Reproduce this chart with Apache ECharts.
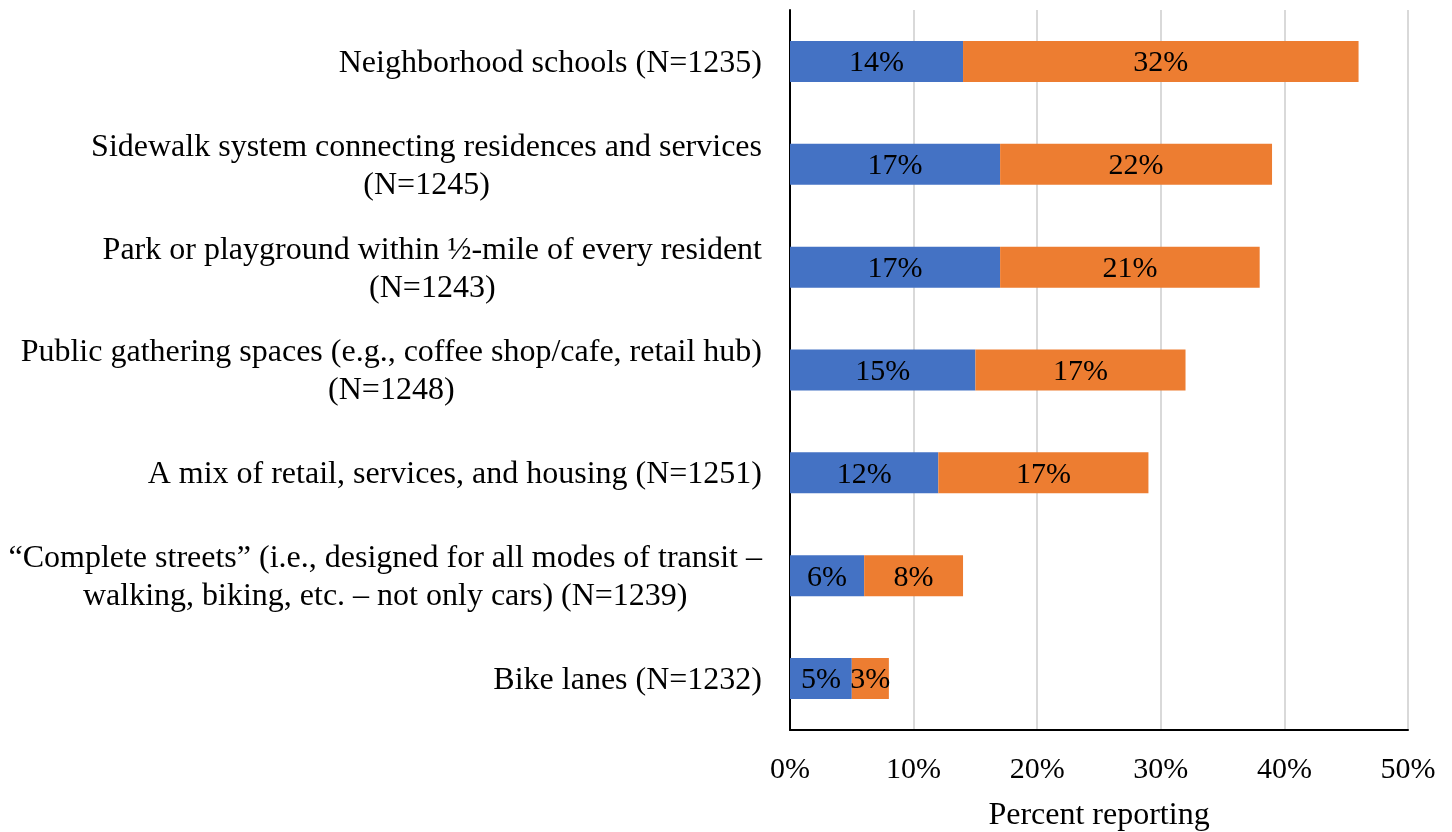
<!DOCTYPE html>
<html>
<head>
<meta charset="utf-8">
<script src="https://cdn.jsdelivr.net/npm/echarts@6/dist/echarts.min.js"></script>
<style>html,body{margin:0;padding:0;background:#fff}#c{width:1452px;height:832px}</style>
</head>
<body>
<div id="c"></div>
<script>
const categories = [
  "Neighborhood schools (N=1235)",
  "Sidewalk system connecting residences and services\n(N=1245)",
  "Park or playground within ½-mile of every resident\n(N=1243)",
  "Public gathering spaces (e.g., coffee shop/cafe, retail hub)\n(N=1248)",
  "A mix of retail, services, and housing (N=1251)",
  "“Complete streets” (i.e., designed for all modes of transit –\nwalking, biking, etc. – not only cars) (N=1239)",
  "Bike lanes (N=1232)"
];
const seriesA = [14, 17, 17, 15, 12, 6, 5];
const seriesB = [32, 22, 21, 17, 17, 8, 3];
const xTicks = [0, 10, 20, 30, 40, 50];

const FONT = "'Liberation Serif', 'Times New Roman', serif";
const chart = echarts.init(document.getElementById('c'));
chart.setOption({
  animation: false,
  backgroundColor: '#fff',
  grid: { left: 790, right: 44, top: 10, bottom: 102, containLabel: false, outerBoundsMode: 'none' },
  xAxis: {
    type: 'value', min: xTicks[0], max: xTicks[xTicks.length - 1], interval: 10,
    axisLine: { show: true, lineStyle: { color: '#000', width: 2 } },
    axisTick: { show: false },
    splitLine: { show: true, lineStyle: { color: '#d9d9d9', width: 2 } },
    axisLabel: { formatter: v => v + '%', fontFamily: FONT, fontSize: 30, color: '#000', margin: 25 },
    name: 'Percent reporting', nameLocation: 'middle', nameGap: 70,
    nameTextStyle: { fontFamily: FONT, fontSize: 32, color: '#000' }
  },
  yAxis: {
    type: 'category', data: categories, inverse: true,
    axisLine: { show: true, lineStyle: { color: '#000', width: 2 } },
    axisTick: { show: false },
    axisLabel: {
      margin: 28, align: 'right', padding: [4, 0, 0, 0],
      formatter: v => v.split('\n').map(l => '{c|' + l + '}').join('\n'),
      rich: { c: { align: 'center', fontFamily: FONT, fontSize: 32, color: '#000', lineHeight: 38 } }
    }
  },
  series: [
    { type: 'bar', stack: 's', data: seriesA, barWidth: 41, itemStyle: { color: '#4472C4' },
      label: { show: true, position: 'inside', offset: [0, 2], formatter: p => p.value + '%', fontFamily: FONT, fontSize: 30, color: '#000' } },
    { type: 'bar', stack: 's', data: seriesB, barWidth: 41, itemStyle: { color: '#ED7D31' },
      label: { show: true, position: 'inside', offset: [0, 2], formatter: p => p.value + '%', fontFamily: FONT, fontSize: 30, color: '#000' } }
  ]
});
</script>
</body>
</html>
